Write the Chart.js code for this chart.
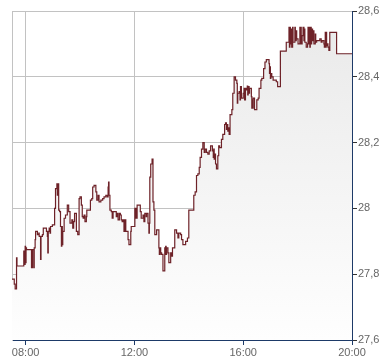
<!DOCTYPE html>
<html>
<head>
<meta charset="utf-8">
<script src="https://cdn.jsdelivr.net/npm/chart.js@4/dist/chart.umd.min.js"></script>
<style>
  html, body { margin: 0; padding: 0; background: #fff; }
  canvas { display: block; }
</style>
</head>
<body>
<canvas id="priceChart" width="390" height="364"></canvas>
<script>
// ── Intraday Data (minutes since midnight / price) ──
const times = [450,455,457,460,461,476,478,479,480,481,482,493,495,498,499,501,502,506,509,510,513,514,517,519,526,528,529,530,532,534,535,539,544,546,549,550,551,553,555,557,559,560,561,562,565,568,572,575,578,582,584,586,588,592,595,598,600,603,605,607,609,611,614,615,623,626,628,631,635,637,640,642,646,650,653,657,660,662,663,664,666,669,671,673,680,682,684,687,689,691,693,695,697,699,701,706,708,712,713,721,722,723,724,726,733,735,739,741,743,746,747,750,752,753,754,756,759,761,763,765,769,774,775,777,778,780,783,787,788,789,790,791,794,796,800,802,804,809,813,816,818,822,824,827,833,837,840,851,854,857,860,863,865,868,871,874,876,879,882,885,888,892,894,895,896,898,899,901,904,906,908,912,915,919,921,923,924,926,927,929,931,935,937,940,943,946,947,948,951,953,954,956,960,962,963,965,967,969,970,971,973,974,978,979,980,981,982,985,990,993,995,999,1001,1005,1008,1011,1017,1018,1019,1020,1021,1023,1026,1033,1036,1042,1055,1061,1062,1063,1064,1066,1067,1069,1070,1074,1075,1077,1078,1081,1085,1086,1087,1088,1090,1092,1094,1095,1096,1099,1102,1103,1105,1106,1107,1108,1110,1111,1113,1114,1116,1119,1120,1122,1129,1132,1134,1138,1139,1141,1142,1143,1144,1145,1147,1149,1151,1166,1200];

const prices = [27.785,27.77,27.755,27.85,27.825,27.87,27.83,27.885,27.835,27.88,27.875,27.82,27.875,27.82,27.88,27.905,27.93,27.92,27.925,27.915,27.845,27.915,27.92,27.94,27.93,27.915,27.865,27.93,27.94,27.925,27.945,27.95,28.0,28.06,28.075,28.04,28.075,27.995,27.99,27.945,27.885,27.945,27.89,27.93,27.97,27.98,28.01,27.99,27.955,27.965,27.94,27.96,27.985,27.93,27.92,28.03,28.035,28.01,27.975,27.97,27.98,27.96,27.975,27.995,28.025,28.03,28.065,28.07,28.05,28.025,28.04,28.02,28.025,28.03,28.035,28.04,28.035,28.065,28.08,28.04,27.995,27.99,27.97,27.99,27.975,27.985,27.965,27.985,27.98,27.965,27.96,27.965,27.93,27.965,27.93,27.905,27.89,27.93,27.945,28.0,27.97,28.0,27.97,28.01,27.99,27.97,27.98,27.96,27.985,27.975,27.985,27.955,27.925,27.955,28.095,28.135,28.15,28.02,27.995,27.92,27.935,27.88,27.86,27.88,27.865,27.86,27.81,27.88,27.86,27.885,27.86,27.88,27.865,27.835,27.865,27.855,27.88,27.935,27.925,27.91,27.925,27.92,27.905,27.89,27.9,27.91,27.995,28.04,28.05,28.1,28.105,28.125,28.155,28.18,28.2,28.17,28.18,28.17,28.165,28.175,28.19,28.175,28.155,28.18,28.15,28.165,28.135,28.12,28.16,28.19,28.185,28.21,28.225,28.255,28.26,28.24,28.255,28.235,28.245,28.225,28.285,28.3,28.35,28.4,28.39,28.38,28.32,28.35,28.355,28.33,28.37,28.335,28.35,28.365,28.33,28.365,28.36,28.372,28.345,28.37,28.35,28.365,28.34,28.305,28.33,28.305,28.335,28.3,28.33,28.335,28.365,28.39,28.395,28.425,28.445,28.452,28.44,28.41,28.43,28.395,28.41,28.4,28.39,28.385,28.37,28.478,28.505,28.55,28.49,28.55,28.5,28.545,28.49,28.55,28.505,28.55,28.51,28.54,28.515,28.5,28.55,28.5,28.55,28.5,28.525,28.55,28.51,28.545,28.505,28.49,28.5,28.55,28.5,28.55,28.49,28.55,28.5,28.545,28.51,28.54,28.5,28.53,28.505,28.51,28.515,28.505,28.51,28.5,28.49,28.535,28.49,28.535,28.495,28.5,28.49,28.48,28.535,28.47,28.47];

// ── Axis Ticks ──
const xTickValues = [480, 720, 960, 1200];
const yTickValues = [27.6, 27.8, 28, 28.2, 28.4, 28.6];

const GRID = '#c2c2c2';
const AXIS = '#1d3a68';
const LABEL = '#666';
const tickFont = { family: '"Liberation Sans", Arial, sans-serif', size: 11 };

function fmtTime(m) {
  return String(Math.floor(m / 60)).padStart(2, '0') + ':' + String(m % 60).padStart(2, '0');
}

function fmtPrice(v) {
  return String(v).replace('.', ',');
}

// ── Chart ──
new Chart(document.getElementById('priceChart'), {
  type: 'line',
  data: {
    datasets: [{
      data: times.map((t, i) => ({ x: t, y: prices[i] })),
      stepped: true,
      borderColor: '#6e2228',
      borderWidth: 1.2,
      pointRadius: 0,
      fill: 'start',
      backgroundColor: (c) => {
        const area = c.chart.chartArea;
        if (!area) return '#f0f0f0';
        const g = c.chart.ctx.createLinearGradient(0, area.top, 0, area.bottom);
        g.addColorStop(0, '#e9e9e9');
        g.addColorStop(1, '#fefefe');
        return g;
      }
    }]
  },
  options: {
    responsive: false,
    animation: false,
    layout: { padding: { left: 12, top: 11, right: 0, bottom: 0 } },
    plugins: { legend: { display: false }, tooltip: { enabled: false } },
    scales: {
      x: {
        type: 'linear',
        min: 450, max: 1200,
        afterBuildTicks: s => { s.ticks = xTickValues.map(v => ({ value: v })); },
        afterFit: s => { s.height = 24; },
        grid: { color: GRID, tickColor: AXIS, tickLength: 5 },
        border: { color: AXIS, width: 1 },
        ticks: { callback: v => fmtTime(v), color: LABEL, font: tickFont, padding: 1, maxRotation: 0, autoSkip: false }
      },
      y: {
        position: 'right',
        min: 27.6, max: 28.6,
        afterBuildTicks: s => { s.ticks = yTickValues.map(v => ({ value: v })); },
        afterFit: s => { s.width = 38; },
        grid: { color: GRID, tickColor: '#333', tickLength: 5 },
        border: { color: AXIS, width: 1 },
        ticks: { callback: v => fmtPrice(v), color: LABEL, font: tickFont, padding: 1, autoSkip: false }
      },
      yLeft: {
        position: 'left',
        ticks: { display: false },
        grid: { display: false, drawTicks: false },
        border: { color: GRID, width: 1 },
        afterFit: s => { s.width = 0; }
      }
    }
  }
});
</script>
</body>
</html>
